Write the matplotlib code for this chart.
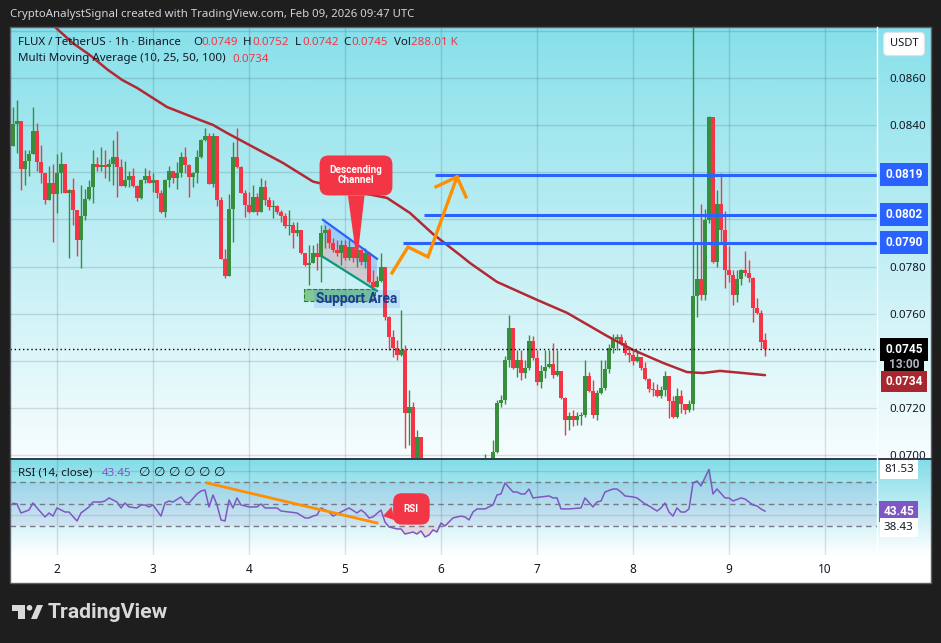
import numpy as np
import matplotlib
matplotlib.use("Agg")
import matplotlib.pyplot as plt
from matplotlib.patches import Rectangle, Polygon, Circle
from matplotlib.transforms import blended_transform_factory

W, H = 941, 643

# hourly candles, hour 0 = day 2 00:00, first bar at hour -11
first_open = 0.08311
last_open = 0.0749
closes = [
    0.08405, 0.08417, 0.08214, 0.08248, 0.08277, 0.08375, 0.08244, 0.08197, 0.08083, 0.08155,
    0.08108, 0.08197, 0.08235, 0.08112, 0.08125, 0.08040, 0.07913, 0.08015, 0.08087, 0.08138,
    0.08235, 0.08222, 0.08231, 0.08222, 0.08235, 0.08265, 0.08222, 0.08142, 0.08167, 0.08184,
    0.08142, 0.08091, 0.08167, 0.08184, 0.08155, 0.08167, 0.08112, 0.08032, 0.08167, 0.08205,
    0.08176, 0.08197, 0.08265, 0.08231, 0.08180, 0.08197, 0.08265, 0.08337, 0.08354, 0.08150,
    0.08354, 0.08083, 0.07833, 0.07761, 0.08044, 0.08265, 0.08222, 0.08112, 0.08061, 0.08032,
    0.08095, 0.08032, 0.08138, 0.08083, 0.08053, 0.08057, 0.08032, 0.08015, 0.07972, 0.07977,
    0.07943, 0.07955, 0.07858, 0.07807, 0.07816, 0.07858, 0.07841, 0.07943, 0.07955, 0.07900,
    0.07871, 0.07858, 0.07892, 0.07837, 0.07883, 0.07837, 0.07871, 0.07820, 0.07858, 0.07735,
    0.07714, 0.07739, 0.07799, 0.07587, 0.07502, 0.07456, 0.07426, 0.07447, 0.07180, 0.07206,
    0.06950, 0.07078, 0.06920, 0.06870, 0.06820, 0.06850, 0.06790, 0.06760, 0.06800, 0.06840,
    0.06810, 0.06860, 0.06880, 0.06850, 0.06900, 0.06920, 0.06890, 0.06940, 0.06960, 0.06950,
    0.07015, 0.07223, 0.07235, 0.07405, 0.07540, 0.07371, 0.07405, 0.07350, 0.07371, 0.07485,
    0.07413, 0.07311, 0.07358, 0.07375, 0.07388, 0.07341, 0.07358, 0.07244, 0.07150, 0.07167,
    0.07150, 0.07167, 0.07172, 0.07337, 0.07273, 0.07172, 0.07265, 0.07286, 0.07367, 0.07456,
    0.07494, 0.07502, 0.07477, 0.07434, 0.07426, 0.07400, 0.07417, 0.07371, 0.07324, 0.07282,
    0.07278, 0.07252, 0.07278, 0.07337, 0.07231, 0.07163, 0.07252, 0.07218, 0.07193, 0.07218,
    0.07676, 0.07748, 0.07680, 0.07998, 0.08434, 0.07820, 0.08066, 0.07955, 0.07786, 0.07765,
    0.07680, 0.07748, 0.07786, 0.07773, 0.07752, 0.07625, 0.07604, 0.07481, 0.07450,
]
highs = [
    0.08477, 0.08506, 0.08417, 0.08294, 0.08294, 0.08477, 0.08409, 0.08316, 0.08197, 0.08227,
    0.08235, 0.08277, 0.08286, 0.08235, 0.08129, 0.08176, 0.08036, 0.08146, 0.08129, 0.08167,
    0.08294, 0.08265, 0.08307, 0.08294, 0.08256, 0.08337, 0.08375, 0.08256, 0.08248, 0.08205,
    0.08218, 0.08146, 0.08170, 0.08218, 0.08210, 0.08197, 0.08155, 0.08125, 0.08170, 0.08227,
    0.08205, 0.08244, 0.08286, 0.08307, 0.08235, 0.08200, 0.08294, 0.08340, 0.08388, 0.08366,
    0.08366, 0.08345, 0.08095, 0.07875, 0.08108, 0.08328, 0.08388, 0.08227, 0.08125, 0.08117,
    0.08146, 0.08112, 0.08176, 0.08167, 0.08095, 0.08083, 0.08061, 0.08040, 0.08027, 0.08040,
    0.07989, 0.07989, 0.07955, 0.07858, 0.07892, 0.07892, 0.07900, 0.07977, 0.07977, 0.07964,
    0.07922, 0.07913, 0.07913, 0.07913, 0.07913, 0.07883, 0.07892, 0.07871, 0.07879, 0.07862,
    0.07786, 0.07761, 0.07858, 0.07800, 0.07590, 0.07532, 0.07489, 0.07617, 0.07468, 0.07278,
    0.07227, 0.07108, 0.07080, 0.06935, 0.06890, 0.06880, 0.06860, 0.06810, 0.06830, 0.06870,
    0.06860, 0.06890, 0.06920, 0.06900, 0.06930, 0.06950, 0.06940, 0.06970, 0.07006, 0.06985,
    0.07066, 0.07235, 0.07257, 0.07422, 0.07595, 0.07540, 0.07447, 0.07447, 0.07405, 0.07511,
    0.07506, 0.07447, 0.07384, 0.07447, 0.07447, 0.07477, 0.07447, 0.07354, 0.07248, 0.07184,
    0.07193, 0.07184, 0.07184, 0.07405, 0.07354, 0.07320, 0.07278, 0.07405, 0.07405, 0.07472,
    0.07515, 0.07515, 0.07515, 0.07489, 0.07456, 0.07447, 0.07447, 0.07413, 0.07396, 0.07328,
    0.07311, 0.07303, 0.07295, 0.07358, 0.07337, 0.07252, 0.07286, 0.07278, 0.07218, 0.07235,
    0.08850, 0.07900, 0.08066, 0.08044, 0.08440, 0.08417, 0.08125, 0.08197, 0.08036, 0.07888,
    0.07786, 0.07786, 0.07790, 0.07866, 0.07828, 0.07756, 0.07667, 0.07617, 0.07520,
]
lows = [
    0.08311, 0.08282, 0.08125, 0.08146, 0.08184, 0.08282, 0.08205, 0.08155, 0.08066, 0.08087,
    0.07905, 0.08027, 0.08112, 0.08112, 0.07837, 0.07977, 0.07845, 0.07795, 0.07998, 0.08083,
    0.08070, 0.08205, 0.08205, 0.08176, 0.08163, 0.08146, 0.08095, 0.08142, 0.08138, 0.08138,
    0.08138, 0.08078, 0.08085, 0.08155, 0.08155, 0.08117, 0.08091, 0.08027, 0.08011, 0.08138,
    0.08155, 0.08129, 0.08180, 0.08197, 0.08095, 0.08138, 0.08155, 0.08261, 0.08333, 0.08148,
    0.08138, 0.08057, 0.07830, 0.07752, 0.07769, 0.07905, 0.08218, 0.08110, 0.08011, 0.08027,
    0.08032, 0.08019, 0.08032, 0.08061, 0.08040, 0.08006, 0.08023, 0.07989, 0.07964, 0.07934,
    0.07879, 0.07930, 0.07855, 0.07803, 0.07722, 0.07820, 0.07786, 0.07735, 0.07879, 0.07879,
    0.07862, 0.07845, 0.07807, 0.07828, 0.07828, 0.07820, 0.07799, 0.07807, 0.07795, 0.07731,
    0.07710, 0.07714, 0.07735, 0.07574, 0.07447, 0.07417, 0.07405, 0.07422, 0.07032, 0.07045,
    0.06920, 0.06930, 0.06880, 0.06840, 0.06790, 0.06800, 0.06760, 0.06730, 0.06740, 0.06790,
    0.06780, 0.06800, 0.06840, 0.06820, 0.06840, 0.06880, 0.06860, 0.06880, 0.06930, 0.06920,
    0.06940, 0.07012, 0.07206, 0.07218, 0.07375, 0.07367, 0.07333, 0.07320, 0.07328, 0.07362,
    0.07405, 0.07299, 0.07286, 0.07328, 0.07371, 0.07328, 0.07337, 0.07240, 0.07087, 0.07108,
    0.07125, 0.07129, 0.07129, 0.07163, 0.07269, 0.07159, 0.07150, 0.07261, 0.07278, 0.07350,
    0.07434, 0.07447, 0.07468, 0.07426, 0.07396, 0.07384, 0.07396, 0.07362, 0.07320, 0.07269,
    0.07252, 0.07248, 0.07244, 0.07252, 0.07159, 0.07159, 0.07159, 0.07180, 0.07176, 0.07184,
    0.07193, 0.07587, 0.07659, 0.07659, 0.07985, 0.07816, 0.07799, 0.07905, 0.07710, 0.07735,
    0.07638, 0.07650, 0.07722, 0.07761, 0.07735, 0.07566, 0.07600, 0.07456, 0.07420,
]
volume_text = "288.01 K"

# moving average (100)
ma_hours = [-0.5, 4, 8, 12.75, 16.25, 20, 27.5, 35.75, 39, 42.5, 49, 56.5, 64, 75, 82.5,
            88.25, 94, 100.75, 103.25, 110, 120, 127.5, 137.5, 144, 151.5, 157.5, 161.5,
            165.75, 171.5, 177]
ma_vals = [0.08815, 0.08746, 0.08699, 0.08633, 0.08591, 0.08557, 0.08476, 0.08421, 0.08400,
           0.08366, 0.08307, 0.08239, 0.08160, 0.08116, 0.08091, 0.08027, 0.07938, 0.07849,
           0.07815, 0.07735, 0.07659, 0.07604, 0.07506, 0.07447, 0.07392, 0.07353, 0.07349,
           0.07358, 0.07349, 0.07340]

# RSI (14)
rsi_hours = [-11, -10, -9, -7, -6, -5, -3, -2, -1, 0, 2, 3, 5, 6, 8, 9, 11, 12, 13, 15,
             16, 17, 18, 20, 21, 22, 23, 24, 26, 27, 28, 29, 31, 32, 33, 35, 36, 37, 38, 39,
             40, 41, 42, 43, 44, 45, 46, 48, 50, 51, 52, 55, 56, 58, 60, 62, 63, 64, 65, 66,
             68, 69, 71, 72, 73, 75, 76, 77, 78, 79, 81, 82, 83, 85, 86, 87, 89, 90, 91, 92,
             93, 94, 95, 96, 97, 99, 101, 102, 103, 104, 105, 107, 109, 110, 111, 112, 114, 115, 116, 117,
             118, 119, 121, 123, 124, 125, 126, 128, 131, 132, 134, 135, 136, 137, 139, 140, 141, 142, 144, 145,
             147, 148, 150, 151, 152, 153, 154, 155, 156, 157, 158, 159, 160, 161, 163, 164, 165, 167, 168, 169,
             171, 172, 174, 175, 176, 177]
rsi_vals = [50.6, 50.0, 41.8, 44.5, 50.9, 46.4, 38.2, 41.8, 39.0, 46.4, 42.7, 42.7, 34.5, 41.8, 47.3, 51.8, 51.8, 52.7, 55.5, 51.8,
            46.4, 50.9, 47.3, 46.4, 49.1, 49.1, 47.3, 49.1, 39.0, 50.9, 52.7, 51.8, 56.4, 51.8, 50.9, 59.1, 61.8, 62.7, 47.3, 58.2,
            49.1, 35.5, 34.5, 53.6, 46.4, 55.5, 49.1, 47.3, 47.3, 50.0, 46.4, 46.4, 43.6, 42.7, 41.8, 37.3, 37.3, 39.0, 40.0, 46.4,
            42.7, 39.0, 42.7, 44.5, 46.4, 41.8, 44.5, 41.8, 37.3, 38.2, 44.5, 33.6, 29.1, 27.3, 27.3, 22.7, 24.5, 22.7, 25.5, 20.0,
            21.8, 26.4, 24.5, 32.7, 30.0, 37.3, 39.0, 38.2, 35.5, 42.7, 45.5, 45.5, 49.1, 58.2, 59.1, 69.1, 60.9, 60.9, 59.1, 59.1,
            63.6, 55.5, 56.4, 57.3, 55.5, 55.5, 45.5, 45.5, 46.4, 55.5, 47.3, 51.8, 52.7, 60.9, 63.6, 63.6, 60.9, 57.3, 56.4, 55.5,
            50.0, 48.2, 43.6, 46.4, 50.9, 42.7, 39.0, 46.4, 42.7, 42.7, 45.5, 69.1, 70.9, 66.4, 81.53, 59.1, 63.6, 55.5, 55.5, 52.7,
            55.5, 54.5, 49.1, 48.2, 45.5, 43.45]
rsi_low_label = 38.43

# drawn levels
levels = [0.0819, 0.0802, 0.0790]
level_start = [94.5, 91.75, 86.5]
day_labels = ['2', '3', '4', '5', '6', '7', '8', '9', '10']
price_ticks = [0.0700, 0.0720, 0.0760, 0.0780, 0.0840, 0.0860]

GREEN = '#388e3c'
RED = '#f23645'
BLUE = '#2962ff'
ORANGE = '#ff8f00'
PURPLE = '#7e57c2'
MA_COL = '#b22833'
TXT = '#131722'
BOLD_FONT = ['Roboto', 'DejaVu Sans']

assert len(closes) == len(highs) == len(lows)
assert len(rsi_hours) == len(rsi_vals)
assert len(ma_hours) == len(ma_vals)

plt.rcParams['font.family'] = ['Noto Sans', 'DejaVu Sans']

fig = plt.figure(figsize=(W / 100, H / 100), dpi=100, facecolor='#1e1e1e')


def px_axes(x0, y0, x1, y1):
    return fig.add_axes([x0 / W, 1 - y1 / H, (x1 - x0) / W, (y1 - y0) / H])


def gradient(x0, y0, x1, y1, top, bottom):
    a = px_axes(x0, y0, x1, y1)
    g = np.linspace(0, 1, 256)[:, None, None]
    top = np.array(top) / 255.0
    bottom = np.array(bottom) / 255.0
    img = top * (1 - g) + bottom * g
    a.imshow(np.repeat(img, 2, axis=1), aspect='auto', extent=[0, 1, 0, 1], interpolation='bilinear')
    a.set_axis_off()
    return a


# ---------- price pane ----------
gradient(10, 27, 931, 458, (135, 224, 234), (247, 253, 254))

hours = np.arange(len(closes)) - 11
c = np.array(closes)
o = np.r_[first_open, c[:-1]]
o[-1] = last_open
hi = np.maximum(np.array(highs), np.maximum(o, c))
lo = np.minimum(np.array(lows), np.minimum(o, c))
cols = np.where(c >= o, GREEN, RED)

ax = px_axes(10, 27, 877, 458)
ax.set_facecolor('none')
ax.set_xlim(-11.75, 205)
ax.set_ylim(0.06989, 0.08815)
for s in ax.spines.values():
    s.set_visible(False)

for v in np.arange(0.070, 0.0885, 0.002):
    ax.axhline(v, color='black', alpha=0.12, lw=1, zorder=0)
for d in range(0, 200, 24):
    ax.axvline(d, color='black', alpha=0.12, lw=1, zorder=0)

ax.vlines(hours, lo, hi, colors=cols, lw=1, zorder=3)
ax.bar(hours, np.maximum(np.abs(c - o), 0.00003), bottom=np.minimum(o, c), width=0.8,
       color=cols, linewidth=0, zorder=3)

ax.plot(ma_hours, ma_vals, color=MA_COL, lw=1.8, zorder=4, solid_capstyle='round')

# current price line
ax.axhline(c[-1], color='black', lw=1, ls=(0, (1, 2)), zorder=4)

# resistance levels
ax.hlines(levels, level_start, 205, color=BLUE, lw=2.2, zorder=5)

# descending channel
ch_x = [66.5, 80]
ch_top = [0.07998, 0.07833]
ch_bot = [0.07841, 0.07697]
ch_mid = [(a + b) / 2 for a, b in zip(ch_top, ch_bot)]
ax.add_patch(Polygon([(ch_x[0], ch_top[0]), (ch_x[1], ch_top[1]), (ch_x[1], ch_mid[1]), (ch_x[0], ch_mid[0])],
                     closed=True, fc=BLUE, alpha=0.22, ec='none', zorder=2))
ax.add_patch(Polygon([(ch_x[0], ch_mid[0]), (ch_x[1], ch_mid[1]), (ch_x[1], ch_bot[1]), (ch_x[0], ch_bot[0])],
                     closed=True, fc=RED, alpha=0.2, ec='none', zorder=2))
ax.plot(ch_x, ch_top, color=BLUE, lw=1.6, zorder=5)
ax.plot(ch_x, ch_bot, color='#089981', lw=1.6, zorder=5)

# support area
ax.add_patch(Rectangle((61.75, 0.07655), 17.75, 0.0005, fc='#4caf50', alpha=0.6, ec='none', zorder=2))
ax.add_patch(Rectangle((61.75, 0.07655), 17.75, 0.0005, fill=False, ec='#2e7d32', ls='--', lw=0.8, zorder=2))
ax.text(75, 0.07664, 'Support Area', ha='center', va='center', fontsize=9.8, fontweight='bold',
        family=BOLD_FONT, color='#1b3c8f', zorder=6,
        bbox=dict(boxstyle='square,pad=0.15', fc=(0.16, 0.38, 1.0, 0.12), ec='none'))

# projected path
path_h = [83.75, 87.75, 92.75, 100]
path_p = [0.07773, 0.07883, 0.07841, 0.08180]
ax.plot(path_h, path_p, color=ORANGE, lw=2.4, zorder=6, solid_joinstyle='miter')
ax.plot([94.75, 100, 102.25], [0.08138, 0.08180, 0.08095], color=ORANGE, lw=2.4, zorder=6,
        solid_joinstyle='miter')

# callout
ax.annotate('Descending\nChannel', xy=(75, 0.0782), xytext=(74.75, 0.08186), textcoords='data',
            ha='center', va='center', fontsize=7.2, fontweight='bold', family=BOLD_FONT,
            color='white', linespacing=1.0, zorder=7,
            bbox=dict(boxstyle='round,pad=1.0,rounding_size=0.9', fc=RED, ec='none'),
            arrowprops=dict(arrowstyle='wedge,tail_width=0.6,shrink_factor=0.5', fc=RED, ec='none',
                            mutation_scale=20, shrinkA=0, shrinkB=0))

ax.yaxis.tick_right()
ax.set_yticks(price_ticks)
ax.set_yticklabels([f'{v:.4f}' for v in price_ticks])
ax.tick_params(axis='y', length=0, pad=9, labelsize=8.3, labelcolor=TXT)
ax.set_xticks([])

blend = blended_transform_factory(ax.transAxes, ax.transData)
lab_x = 1.0311
for v in levels:
    ax.text(lab_x, v, f'{v:.4f}', transform=blend, ha='center', va='center', fontsize=8.6,
            fontweight='bold', family=BOLD_FONT, color='white', clip_on=False, zorder=8,
            bbox=dict(boxstyle='square,pad=0.42', fc=BLUE, ec='none'))
ax.text(lab_x, c[-1], f'{c[-1]:.4f}', transform=blend, ha='center', va='center', fontsize=8.6,
        fontweight='bold', family=BOLD_FONT, color='white', clip_on=False, zorder=8,
        bbox=dict(boxstyle='square,pad=0.42', fc='black', ec='none'))
ax.annotate('13:00', xy=(lab_x, c[-1]), xycoords=blend, xytext=(0, -11), textcoords='offset points',
            ha='center', va='center', fontsize=8.6, fontweight='bold', family=BOLD_FONT,
            color='#b2b5be', annotation_clip=False, zorder=8,
            bbox=dict(boxstyle='square,pad=0.42', fc='black', ec='none'))
ax.annotate(f'{ma_vals[-1]:.4f}', xy=(lab_x, ma_vals[-1]), xycoords=blend, xytext=(0, -4.5),
            textcoords='offset points', ha='center', va='center', fontsize=8.6, fontweight='bold',
            family=BOLD_FONT, color='white', annotation_clip=False, zorder=8,
            bbox=dict(boxstyle='square,pad=0.32', fc='#a8262e', ec='none'))

# ---------- RSI pane ----------
gradient(10, 458, 931, 555, (128, 220, 232), (255, 255, 255))
gradient(10, 555, 931, 583, (255, 255, 255), (255, 255, 255))

ax2 = px_axes(10, 459, 877, 555)
ax2.set_facecolor('none')
ax2.set_xlim(-11.75, 205)
ax2.set_ylim(3.6, 90.9)
for s in ax2.spines.values():
    s.set_visible(False)
for d in range(0, 200, 24):
    ax2.axvline(d, color='black', alpha=0.12, lw=1, zorder=0)
for v in (40, 80):
    ax2.axhline(v, color='black', alpha=0.1, lw=1, zorder=0)
ax2.axhspan(30, 70, color=PURPLE, alpha=0.1, lw=0, zorder=0)
for v in (70, 50, 30):
    ax2.axhline(v, color='#787b86', lw=1, ls=(0, (4, 3)), zorder=1)

rh = np.array(rsi_hours, dtype=float)
rv = np.array(rsi_vals)
ax2.fill_between(rh, rv, 30, where=rv < 30, interpolate=True, color=RED, alpha=0.15, lw=0, zorder=1)
ax2.fill_between(rh, rv, 70, where=rv > 70, interpolate=True, color=GREEN, alpha=0.15, lw=0, zorder=1)
ax2.plot(rh, rv, color=PURPLE, lw=1.1, zorder=3)

# rsi trend line
ax2.plot([37.5, 80], [69.1, 32.7], color=ORANGE, lw=2, zorder=4)

ax2.annotate('RSI', xy=(81.5, 39), xytext=(88.6, 45.5), textcoords='data', ha='center', va='center',
             fontsize=7, fontweight='bold', family=BOLD_FONT, color='white', zorder=7,
             bbox=dict(boxstyle='round,pad=1.1,rounding_size=0.9', fc=RED, ec='none'),
             arrowprops=dict(arrowstyle='wedge,tail_width=0.5,shrink_factor=0.5', fc=RED, ec='none',
                             mutation_scale=20, shrinkA=0, shrinkB=0))

ax2.set_yticks([])
ax2.set_xticks(range(0, 200, 24))
ax2.set_xticklabels(day_labels)
ax2.tick_params(axis='x', length=0, pad=6, labelsize=8.5, labelcolor=TXT)

blend2 = blended_transform_factory(ax2.transAxes, ax2.transData)
rsi_max = max(rsi_vals)
ax2.text(lab_x - 0.006, rsi_max, f'{rsi_max:.2f}', transform=blend2, ha='center', va='center',
         fontsize=8.3, color=TXT, clip_on=False, zorder=8,
         bbox=dict(boxstyle='square,pad=0.35', fc='white', ec='none'))
ax2.text(lab_x - 0.006, rsi_vals[-1], f'{rsi_vals[-1]:.2f}', transform=blend2, ha='center', va='center',
         fontsize=8.6, fontweight='bold', family=BOLD_FONT, color='white', clip_on=False, zorder=8,
         bbox=dict(boxstyle='square,pad=0.33', fc=PURPLE, ec='none'))
ax2.annotate(f'{rsi_low_label:.2f}', xy=(lab_x - 0.006, rsi_vals[-1]), xycoords=blend2, xytext=(0, -12),
             textcoords='offset points', ha='center', va='center', fontsize=8.3, color=TXT,
             annotation_clip=False, zorder=8,
             bbox=dict(boxstyle='square,pad=0.35', fc='white', ec='none'))

# ---------- overlay: frame, header, legends, logo ----------
ov = fig.add_axes([0, 0, 1, 1])
ov.set_xlim(0, W)
ov.set_ylim(H, 0)
ov.set_axis_off()
ov.patch.set_alpha(0)

ov.add_patch(Rectangle((10, 27), 921, 556, fill=False, ec='#5d606b', lw=1))
ov.plot([10, 931], [458.5, 458.5], color='#2a2e39', lw=1.3)
ov.plot([877, 877], [27, 555], color='white', lw=1)

ov.text(10, 14, 'CryptoAnalystSignal created with TradingView.com, Feb 09, 2026 09:47 UTC',
        color='#d1d4dc', fontsize=8.2, va='center', ha='left')


def seg(x, y, s, color=TXT, size=8.3):
    ov.text(x, y, s, color=color, fontsize=size, va='center', ha='left')


y1 = 42.5
seg(18, y1, 'FLUX / TetherUS · 1h · Binance')
seg(193, y1, 'O')
seg(201, y1, f'{last_open:.4f}', RED)
seg(243, y1, 'H')
seg(252, y1, f'{highs[-1]:.4f}', RED)
seg(295, y1, 'L')
seg(302, y1, f'{lows[-1]:.4f}', RED)
seg(343, y1, 'C')
seg(351, y1, f'{closes[-1]:.4f}', RED)
seg(394, y1, 'Vol')
seg(411, y1, volume_text, RED)
seg(18, 59, 'Multi Moving Average (10, 25, 50, 100)')
seg(232, 59, f'{ma_vals[-1]:.4f}', RED)

seg(18, 473, 'RSI (14, close)')
seg(102, 473, f'{rsi_vals[-1]:.2f}', PURPLE)
for i in range(6):
    seg(139 + 15 * i, 473, '\u2205', size=9.5)

# USDT badge
ov.text(904, 44, 'USDT', ha='center', va='center', fontsize=8, color=TXT,
        bbox=dict(boxstyle='round,pad=0.55,rounding_size=0.4', fc='white', ec='#e0e3eb', lw=0.8))

# TradingView logo
LOGO = '#d9d9d9'
ov.add_patch(Rectangle((12, 605), 13, 6, fc=LOGO, ec='none'))
ov.add_patch(Rectangle((18, 605), 7, 14, fc=LOGO, ec='none'))
ov.add_patch(Circle((29.5, 607.8), 2.8, fc=LOGO, ec='none'))
ov.add_patch(Polygon([(31, 619), (37, 619), (43, 605), (37, 605)], closed=True, fc=LOGO, ec='none'))
ov.text(48, 612.5, 'TradingView', ha='left', va='center', fontsize=15.3, fontweight='bold', color=LOGO,
        family=BOLD_FONT)

fig.savefig('out.png', dpi=100, facecolor=fig.get_facecolor())
